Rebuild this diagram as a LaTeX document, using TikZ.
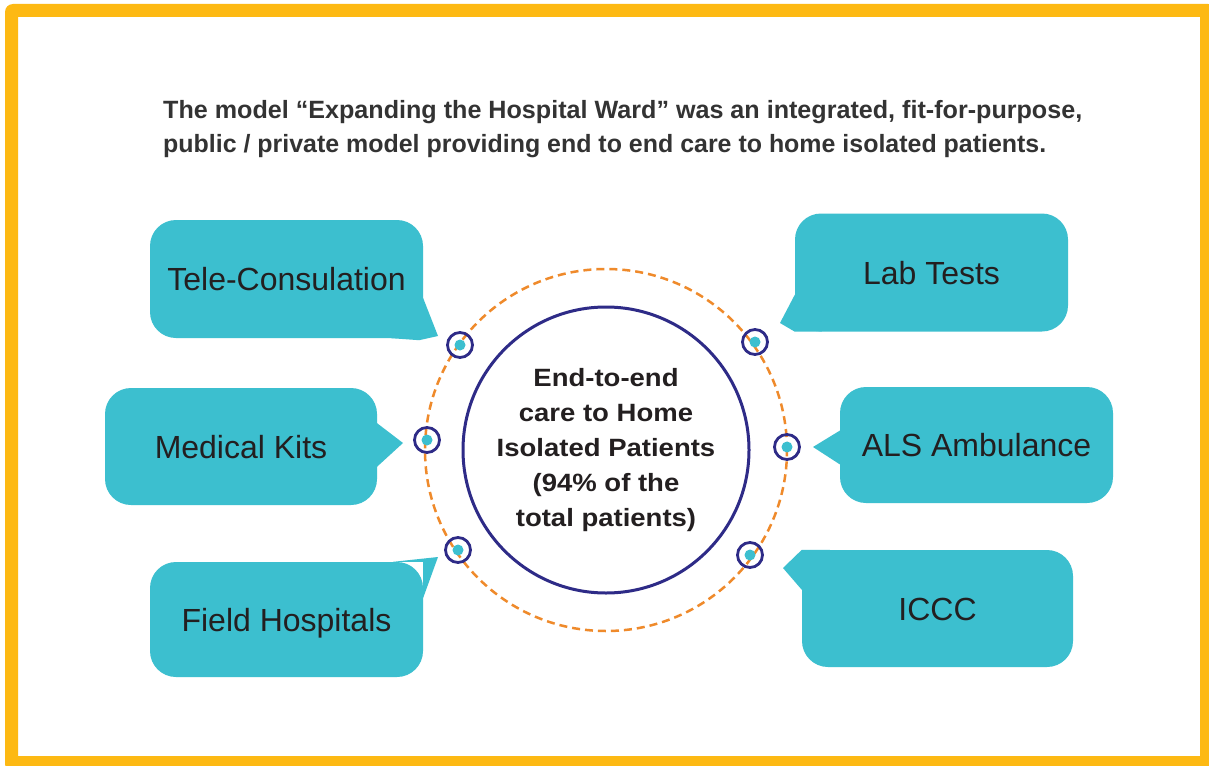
\documentclass[tikz,border=0pt]{standalone}
\usepackage{fontspec}
\usepackage{graphicx}
\setmainfont{Liberation Sans}
\newfontfamily\hubfont[FakeStretch=1.1]{Liberation Sans}
\usetikzlibrary{calc}
\definecolor{frameY}{HTML}{FDB913}
\definecolor{bubbleC}{HTML}{3CBFCF}
\definecolor{ringB}{HTML}{2E2B87}
\definecolor{dashO}{HTML}{EF8A2B}
\definecolor{txtD}{HTML}{231F20}
\definecolor{titleT}{HTML}{333333}
\begin{document}
\begin{tikzpicture}[x=1pt,y=-1pt,
  bubble/.style={fill=bubbleC, rounded corners=26pt, inner sep=0pt,
    minimum width=273pt, minimum height=118pt, text=txtD,
    font=\fontsize{32pt}{38pt}\selectfont, text height=23pt, text depth=0pt},
  tail/.style={fill=bubbleC},
  dot/.style={circle, draw=ringB, line width=2.8pt, minimum size=25pt, inner sep=0pt,
    path picture={\fill[bubbleC] (path picture bounding box.center) circle (5.5pt);}},
  titletext/.style={anchor=base west, inner sep=0pt, text=titleT,
    font=\bfseries\fontsize{25pt}{30pt}\selectfont}
]
\useasboundingbox (0,0) rectangle (1209,765);
% frame
\fill[white] (0,0) rectangle (1209,765);
\fill[frameY, even odd rule] [rounded corners=8pt] (5,4) rectangle (1216,772)
  [sharp corners] (18,17) rectangle (1200,756);

% title
\node[titletext] (title1) at (163,118)
  {\resizebox{919pt}{\height}{The model “Expanding the Hospital Ward” was an integrated, fit-for-purpose,}};
\node[titletext] (title2) at (163,152)
  {\resizebox{883pt}{\height}{public / private model providing end to end care to home isolated patients.}};

% dashed orbit and hub
\draw[dashO, line width=2.5pt, dash pattern=on 8pt off 5pt] (606,450) circle (181pt);
\node[circle, draw=ringB, line width=3pt, minimum size=286pt, inner sep=0pt,
  align=center, text=txtD,
  font=\hubfont\bfseries\fontsize{25pt}{35pt}\selectfont] (hub) at (606,450)
  {End-to-end\\care to Home\\Isolated Patients\\(94\% of the\\total patients)};

% bubbles
\node[bubble] (tele) at (286.5,279) {Tele-Consulation};
\node[bubble] (lab) at (931.5,272.5) {Lab Tests};
\node[bubble, minimum width=272pt, minimum height=117pt] (med) at (241,446.5) {Medical Kits};
\node[bubble, minimum height=116pt] (als) at (976.5,445) {ALS Ambulance};
\node[bubble, minimum height=115pt] (field) at (286.5,619.5) {Field Hospitals};
\node[bubble, minimum width=271pt, minimum height=117pt] (iccc) at (937.5,608.5) {ICCC};

% tails
\coordinate (teleTip) at (438,336);
\coordinate (labTip) at (780,323);
\coordinate (medTip) at (403,443);
\coordinate (alsTip) at (813,447);
\coordinate (fieldTip) at (438,557);
\coordinate (icccTip) at (783,568);
\fill[tail] ($(tele.south east)+(0,-40)$) -- (teleTip) -- ($(tele.south east)+(-4,2)$) -- ($(tele.south east)+(-32,0)$) -- cycle;
\fill[tail] ($(lab.south west)+(0,-37)$) -- (labTip) -- (lab.south west) -- ($(lab.south west)+(27,0)$) -- cycle;
\fill[tail] ($(med.east)+(-1,-24)$) -- (medTip) -- ($(med.east)+(-1,21)$) -- cycle;
\fill[tail] ($(als.west)+(1,-15)$) -- (alsTip) -- ($(als.west)+(1,20)$) -- cycle;
\fill[tail] ($(field.north east)+(-30,0)$) -- (fieldTip) -- ($(field.north east)+(0,36)$) -- (field.north east) -- cycle;
\fill[tail] (icccTip) -- (iccc.north west) -- ($(iccc.north west)+(28,0)$) -- ($(iccc.north west)+(0,40)$) -- cycle;

% dots on the orbit
\node[dot] (d1) at (460,345) {};
\node[dot] (d2) at (755,342) {};
\node[dot] (d3) at (427,440) {};
\node[dot] (d4) at (787,447) {};
\node[dot] (d5) at (458,550) {};
\node[dot] (d6) at (750,555) {};
\end{tikzpicture}
\end{document}
